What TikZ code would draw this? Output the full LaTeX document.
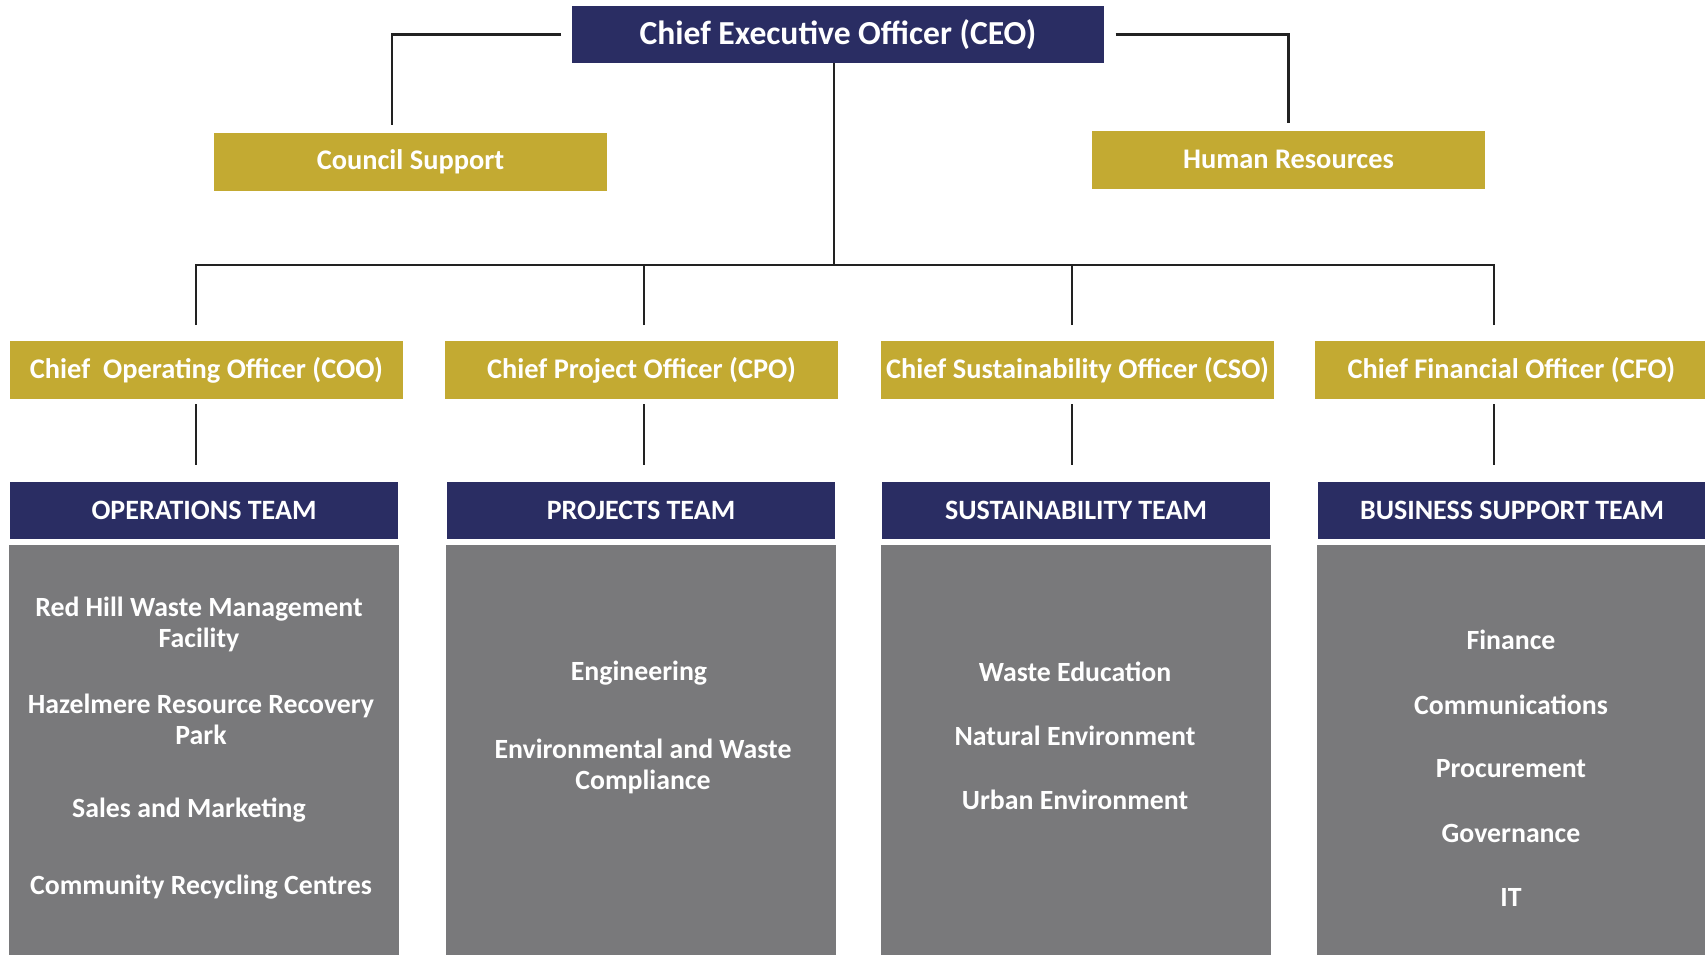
\documentclass[tikz,border=0pt]{standalone}
\usepackage{fontspec}
\setmainfont{Carlito}

\definecolor{navy}{RGB}{42,45,99}
\definecolor{gold}{RGB}{195,170,50}
\definecolor{panelgray}{RGB}{121,121,123}
\definecolor{linegray}{RGB}{34,34,34}

\begin{document}
\begin{tikzpicture}[x=0.5pt, y=-0.5pt,
	box/.style={inner sep=0pt, outer sep=0pt, text=white},
	ceobox/.style={box, fill=navy, minimum width=266pt, minimum height=28.5pt,
		font=\bfseries\fontsize{16.8}{19}\selectfont},
	officer/.style={box, fill=gold, minimum width=196.5pt, minimum height=29pt,
		font=\bfseries\fontsize{14.2}{16}\selectfont},
	teambox/.style={box, fill=navy, minimum width=194pt, minimum height=28.5pt,
		font=\bfseries\fontsize{14}{16}\selectfont},
	panel/.style={box, fill=panelgray, minimum width=195pt, minimum height=205pt},
	item/.style={text=white, inner sep=0pt, align=center,
		font=\bfseries\fontsize{13.9}{15.5}\selectfont},
	link/.style={draw=linegray, line width=1.1pt}]
	\useasboundingbox (0,0) rectangle (1705,955);

	% top of the chart
	\node[ceobox] (ceo) at (838,34.5) {Chief Executive Officer (CEO)};
	\node[officer] (council) at (410.5,162) {Council Support};
	\node[officer] (hr) at (1288.5,159.5) {Human Resources};
	\draw[link] ([xshift=-5.5pt]ceo.west) -| ([xshift=-9.25pt,yshift=4pt]council.north);
	\draw[link] ([xshift=5.75pt]ceo.east) -| ([yshift=4pt]hr.north);
	\draw[link] ([xshift=-2pt]ceo.south) -- ++(0,-101pt) coordinate (bus);

	% officers, teams and panels
	\foreach \n/\x/\tx/\dx/\off/\team in {
		coo/206.5/204/-5.25/Chief\ \ Operating Officer (COO)/OPERATIONS TEAM,
		cpo/641.5/641/1.25/Chief Project Officer (CPO)/PROJECTS TEAM,
		cso/1077.5/1076/-2.75/Chief Sustainability Officer (CSO)/SUSTAINABILITY TEAM,
		cfo/1511.5/1512/-8.75/Chief Financial Officer (CFO)/BUSINESS SUPPORT TEAM} {
		\node[officer] (\n) at (\x,370) {\off};
		\node[teambox] (\n-team) at (\tx,510.5) {\team};
		\node[panel] (\n-panel) at (\tx,750) {};
		\draw[link] ([xshift=\dx pt,yshift=8pt]\n.north) |- (bus);
		\coordinate (\n-top) at ([xshift=\dx pt,yshift=-2.5pt]\n.south);
		\draw[link, shorten >=8.5pt] (\n-top) -- (\n-top |- \n-team.north);
	}

	% operations
	\node[item] (ops1) at (199,624.5) {Red Hill Waste Management\\Facility};
	\node[item] (ops2) at (201,719) {Hazelmere Resource Recovery\\Park};
	\node[item] (ops3) at (189,810) {Sales and Marketing};
	\node[item] (ops4) at (201,887) {Community Recycling Centres};
	% projects
	\node[item] (proj1) at (639,673) {Engineering};
	\node[item] (proj2) at (643,766.5) {Environmental and Waste\\Compliance};
	% sustainability
	\node[item] (sust1) at (1075,672) {Waste Education};
	\node[item] (sust2) at (1075,736) {Natural Environment};
	\node[item] (sust3) at (1075,800) {Urban Environment};
	% business support
	\node[item] (bus1) at (1511,640) {Finance};
	\node[item] (bus2) at (1511,705) {Communications};
	\node[item] (bus3) at (1511,769) {Procurement};
	\node[item] (bus4) at (1511,833) {Governance};
	\node[item] (bus5) at (1511,897) {IT};
\end{tikzpicture}
\end{document}
